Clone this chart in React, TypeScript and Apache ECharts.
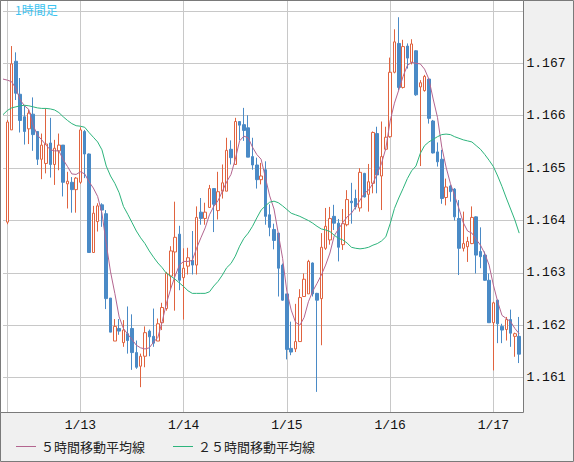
import React, { useEffect, useRef } from 'react';
import * as echarts from 'echarts';

// categories: 1/12 06:00 (lead, no candle) ... 1/17 07:00 (trailing pad)
const categories: string[] = [];
for (let k = 0; k < 122; k++) {
  const t = 6 + k;
  const d = 12 + Math.floor(t / 24);
  const h = t % 24;
  categories.push(`1/${d} ${String(h).padStart(2, '0')}:00`);
}

const opens = [1.16397,1.16573,1.16704,1.16641,1.16598,1.16575,1.16603,1.16570,1.16517,1.16509,
1.16548,1.16507,1.16533,1.16544,1.16470,1.16473,1.16459,1.16473,1.16570,1.16527,
1.16339,1.16398,1.16430,1.16413,1.16252,1.16170,1.16194,1.16167,1.16184,1.16194,
1.16148,1.16122,1.16141,1.16189,1.16179,1.16170,1.16205,1.16232,1.16294,1.16340,
1.16374,1.16291,1.16313,1.16324,1.16315,1.16416,1.16404,1.16425,1.16461,1.16419,
1.16456,1.16456,1.16536,1.16507,1.16589,1.16583,1.16577,1.16522,1.16506,1.16478,
1.16497,1.16411,1.16383,1.16376,1.16315,1.16260,1.16156,1.16155,1.16169,1.16255,
1.16260,1.16319,1.16261,1.16251,1.16347,1.16363,1.16408,1.16395,1.16354,1.16392,
1.16437,1.16442,1.16424,1.16490,1.16450,1.16471,1.16566,1.16485,1.16536,1.16560,
1.16683,1.16738,1.16654,1.16733,1.16702,1.16724,1.16655,1.16648,1.16670,1.16590,
1.16531,1.16517,1.16444,1.16466,1.16460,1.16404,1.16347,1.16350,1.16356,1.16407,
1.16341,1.16334,1.16286,1.16205,1.16248,1.16198,1.16192,1.16211,1.16179,1.16179];

const closes = [1.16588,1.16699,1.16643,1.16591,1.16570,1.16605,1.16564,1.16517,1.16544,1.16546,
1.16507,1.16538,1.16544,1.16473,1.16475,1.16459,1.16481,1.16573,1.16527,1.16339,
1.16414,1.16428,1.16420,1.16251,1.16187,1.16198,1.16189,1.16191,1.16171,1.16148,
1.16120,1.16141,1.16186,1.16178,1.16166,1.16203,1.16234,1.16299,1.16342,1.16368,
1.16286,1.16309,1.16329,1.16315,1.16406,1.16404,1.16416,1.16461,1.16431,1.16455,
1.16472,1.16534,1.16520,1.16589,1.16582,1.16572,1.16521,1.16506,1.16478,1.16485,
1.16408,1.16387,1.16362,1.16309,1.16248,1.16154,1.16149,1.16169,1.16253,1.16288,
1.16322,1.16260,1.16248,1.16349,1.16389,1.16404,1.16395,1.16349,1.16394,1.16440,
1.16434,1.16426,1.16492,1.16445,1.16474,1.16568,1.16487,1.16522,1.16559,1.16683,
1.16741,1.16654,1.16732,1.16710,1.16737,1.16640,1.16663,1.16675,1.16595,1.16529,
1.16512,1.16442,1.16464,1.16455,1.16407,1.16347,1.16356,1.16360,1.16406,1.16334,
1.16331,1.16286,1.16205,1.16243,1.16203,1.16191,1.16211,1.16185,1.16184,1.16145];

const lows = [1.16393,1.16573,1.16630,1.16568,1.16545,1.16546,1.16533,1.16506,1.16479,1.16490,
1.16482,1.16468,1.16496,1.16446,1.16423,1.16415,1.16415,1.16470,1.16481,1.16339,
1.16339,1.16379,1.16388,1.16231,1.16187,1.16170,1.16182,1.16159,1.16146,1.16115,
1.16117,1.16082,1.16120,1.16141,1.16159,1.16170,1.16191,1.16228,1.16267,1.16228,
1.16267,1.16211,1.16297,1.16297,1.16297,1.16392,1.16392,1.16425,1.16378,1.16402,
1.16442,1.16456,1.16507,1.16507,1.16553,1.16552,1.16521,1.16497,1.16461,1.16469,
1.16392,1.16370,1.16345,1.16255,1.16247,1.16135,1.16143,1.16149,1.16169,1.16255,
1.16260,1.16255,1.16073,1.16162,1.16344,1.16354,1.16382,1.16322,1.16344,1.16389,
1.16394,1.16421,1.16417,1.16444,1.16417,1.16452,1.16452,1.16420,1.16534,1.16558,
1.16681,1.16649,1.16652,1.16690,1.16698,1.16638,1.16504,1.16646,1.16585,1.16528,
1.16503,1.16432,1.16429,1.16436,1.16400,1.16296,1.16341,1.16321,1.16355,1.16299,
1.16309,1.16285,1.16205,1.16114,1.16166,1.16166,1.16171,1.16159,1.16140,1.16128];

const highs = [1.16592,1.16733,1.16721,1.16672,1.16619,1.16612,1.16635,1.16570,1.16566,1.16613,
1.16596,1.16554,1.16566,1.16544,1.16493,1.16483,1.16483,1.16578,1.16573,1.16528,
1.16428,1.16433,1.16433,1.16420,1.16252,1.16212,1.16212,1.16210,1.16236,1.16221,
1.16171,1.16146,1.16198,1.16192,1.16232,1.16213,1.16243,1.16302,1.16351,1.16436,
1.16390,1.16347,1.16348,1.16380,1.16427,1.16443,1.16434,1.16468,1.16461,1.16493,
1.16507,1.16558,1.16553,1.16596,1.16589,1.16615,1.16601,1.16558,1.16520,1.16510,
1.16513,1.16431,1.16394,1.16376,1.16318,1.16260,1.16207,1.16241,1.16269,1.16299,
1.16325,1.16320,1.16262,1.16376,1.16424,1.16426,1.16430,1.16403,1.16422,1.16458,
1.16472,1.16459,1.16500,1.16491,1.16508,1.16570,1.16579,1.16589,1.16579,1.16711,
1.16765,1.16788,1.16745,1.16738,1.16746,1.16725,1.16668,1.16678,1.16671,1.16592,
1.16549,1.16535,1.16480,1.16468,1.16462,1.16439,1.16417,1.16369,1.16427,1.16408,
1.16387,1.16341,1.16299,1.16245,1.16249,1.16203,1.16216,1.16230,1.16186,1.16216];

// moving averages, first value = the hour before the first candle
const ma5 = [1.16670,
1.16668,1.16665,1.16652,1.16630,1.16619,1.16612,1.16582,1.16563,1.16554,1.16544,
1.16535,1.16533,1.16533,1.16516,1.16503,1.16489,1.16488,1.16493,1.16489,1.16474,
1.16462,1.16446,1.16414,1.16356,1.16302,1.16261,1.16216,1.16194,1.16183,1.16173,
1.16162,1.16157,1.16155,1.16157,1.16168,1.16177,1.16207,1.16242,1.16270,1.16294,
1.16315,1.16322,1.16322,1.16324,1.16347,1.16367,1.16386,1.16411,1.16427,1.16438,
1.16456,1.16474,1.16488,1.16517,1.16552,1.16561,1.16558,1.16540,1.16526,1.16517,
1.16482,1.16447,1.16422,1.16375,1.16328,1.16264,1.16229,1.16206,1.16200,1.16215,
1.16245,1.16265,1.16280,1.16296,1.16315,1.16338,1.16371,1.16384,1.16396,1.16407,
1.16414,1.16426,1.16439,1.16452,1.16458,1.16471,1.16490,1.16509,1.16538,1.16590,
1.16624,1.16649,1.16675,1.16696,1.16702,1.16700,1.16699,1.16689,1.16670,1.16632,
1.16597,1.16540,1.16502,1.16471,1.16447,1.16423,1.16396,1.16380,1.16376,1.16364,
1.16353,1.16337,1.16315,1.16277,1.16245,1.16219,1.16213,1.16207,1.16194,1.16184];

const ma25 = [1.16602,
1.16610,1.16615,1.16617,1.16619,1.16620,1.16619,1.16617,1.16615,1.16614,1.16614,
1.16613,1.16611,1.16606,1.16598,1.16591,1.16585,1.16581,1.16580,1.16578,1.16568,
1.16559,1.16550,1.16535,1.16504,1.16485,1.16471,1.16453,1.16427,1.16412,1.16396,
1.16380,1.16367,1.16356,1.16342,1.16330,1.16319,1.16310,1.16299,1.16294,1.16288,
1.16281,1.16274,1.16266,1.16261,1.16261,1.16261,1.16261,1.16264,1.16275,1.16284,
1.16296,1.16310,1.16318,1.16332,1.16351,1.16366,1.16376,1.16389,1.16405,1.16420,
1.16428,1.16435,1.16437,1.16434,1.16428,1.16421,1.16414,1.16411,1.16408,1.16404,
1.16400,1.16395,1.16389,1.16384,1.16382,1.16379,1.16372,1.16366,1.16363,1.16357,
1.16349,1.16347,1.16346,1.16347,1.16349,1.16353,1.16356,1.16361,1.16369,1.16394,
1.16423,1.16443,1.16461,1.16480,1.16495,1.16504,1.16528,1.16543,1.16550,1.16555,
1.16560,1.16564,1.16565,1.16564,1.16560,1.16557,1.16554,1.16552,1.16550,1.16543,
1.16536,1.16526,1.16515,1.16503,1.16485,1.16465,1.16443,1.16422,1.16401,1.16376];

const seriesNames = ['５時間移動平均線', '２５時間移動平均線'];
const titleText = '1時間足';
const Y_MIN = 1.160346;
const Y_MAX = 1.168209;

const UP = '#e0633f';
const DOWN = '#4a8ac6';
const MA5_COLOR = '#b3658f';
const MA25_COLOR = '#2db47c';
const GRID = '#c8c8c8';
const FRAME = '#7a7a7a';
const MONO = '"Liberation Mono", "DejaVu Sans Mono", monospace';
const CJK = '"Noto Sans CJK JP", sans-serif';

export default function App() {
  const ref = useRef<HTMLDivElement>(null);
  useEffect(() => {
    if (!ref.current) return;
    const chart = echarts.init(ref.current, undefined, { renderer: 'svg' });
    const candleData = opens.map((o, i) => [i + 1, o, closes[i], lows[i], highs[i]]);
    const isDayStart = (value: string) => value.endsWith(' 00:00');
    chart.setOption({
      animation: false,
      title: {
        text: titleText,
        left: 15,
        top: 3,
        padding: 0,
        textStyle: { color: '#3cc3f0', fontSize: 12, fontWeight: 'normal', fontFamily: CJK },
      },
      legend: {
        data: seriesNames,
        left: 16,
        top: 440,
        padding: 0,
        icon: 'rect',
        itemWidth: 20,
        itemHeight: 1,
        itemGap: 28,
        textStyle: { fontSize: 13, color: '#222', fontFamily: CJK },
      },
      grid: { left: 3, top: 0, width: 520.5, height: 412, containLabel: false },
      xAxis: {
        type: 'category',
        data: categories,
        boundaryGap: false,
        axisLine: { show: false },
        axisTick: { show: false },
        axisLabel: {
          interval: (_i: number, v: string) => isDayStart(v),
          formatter: (v: string) => v.split(' ')[0],
          margin: 7,
          fontFamily: MONO,
          fontSize: 13,
          color: '#111',
        },
        splitLine: {
          show: true,
          interval: (i: number, v: string) => i === 1 || isDayStart(v),
          lineStyle: { color: GRID, width: 1 },
        },
      },
      yAxis: {
        type: 'value',
        position: 'right',
        min: Y_MIN,
        max: Y_MAX,
        splitNumber: 8,
        axisLine: { show: false },
        axisTick: { show: false },
        axisLabel: {
          showMinLabel: false,
          showMaxLabel: false,
          formatter: (v: number) => (v > 1.1675 ? '' : v.toFixed(3)),
          margin: 3,
          fontFamily: MONO,
          fontSize: 13,
          color: '#111',
        },
        splitLine: { show: true, showMinLine: false, showMaxLine: false, lineStyle: { color: GRID, width: 1 } },
      },
      graphic: [
        {
          type: 'rect', z: -10, silent: true,
          shape: { x: 0.5, y: 0.5, width: 573, height: 461 },
          style: { fill: '#f0f0f0', stroke: FRAME, lineWidth: 1 },
        },
        {
          type: 'rect', z: -9, silent: true,
          shape: { x: 0.5, y: 0.5, width: 523, height: 412 },
          style: { fill: '#ffffff', stroke: 'none' },
        },
        {
          type: 'rect', z: 100, silent: true,
          shape: { x: 0.5, y: 0.5, width: 523, height: 412 },
          style: { fill: 'none', stroke: FRAME, lineWidth: 1 },
        },
      ],
      series: [
        {
          type: 'candlestick',
          data: candleData,
          encode: { x: 0, y: [1, 2, 3, 4] },
          barWidth: 3,
          itemStyle: {
            color: '#ffffff',
            color0: DOWN,
            borderColor: UP,
            borderColor0: DOWN,
            borderWidth: 1,
          },
          z: 2,
        },
        {
          type: 'line',
          name: seriesNames[0],
          data: ma5,
          symbol: 'none',
          showSymbol: false,
          color: MA5_COLOR,
          lineStyle: { color: MA5_COLOR, width: 1 },
          z: 3,
        },
        {
          type: 'line',
          name: seriesNames[1],
          data: ma25,
          symbol: 'none',
          showSymbol: false,
          color: MA25_COLOR,
          lineStyle: { color: MA25_COLOR, width: 1 },
          z: 3,
        },
      ],
    });
    return () => chart.dispose();
  }, []);
  return <div ref={ref} style={{ position: 'absolute', left: 0, top: 0, width: 574, height: 462 }} />;
}
